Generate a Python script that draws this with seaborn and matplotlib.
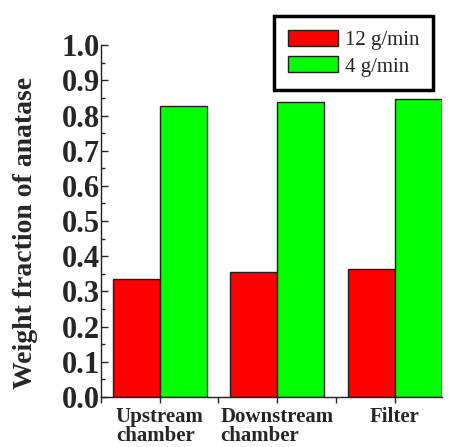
import numpy as np
import pandas as pd
import matplotlib
matplotlib.use("Agg")
import matplotlib.pyplot as plt
from matplotlib.ticker import MultipleLocator, FixedLocator
import seaborn as sns

# Daten
locations = ["Upstream\nchamber", "Downstream\nchamber", "Filter"]
rate_labels = ["12 g/min", "4 g/min"]
frac_12 = [0.334, 0.354, 0.363]
frac_4 = [0.828, 0.839, 0.847]
bar_colors = ["#ff0000", "#00ff00"]

df = pd.DataFrame({
    "location": locations * 2,
    "rate": [rate_labels[0]] * 3 + [rate_labels[1]] * 3,
    "frac": frac_12 + frac_4,
})

sns.set_style("ticks")
plt.rcParams["font.family"] = ["Liberation Serif", "DejaVu Serif"]

fig = plt.figure(figsize=(4.51, 4.47), dpi=100)
ax = fig.add_axes([0.224, 0.112, 0.755, 0.787])

sns.barplot(data=df, x="location", y="frac", hue="rate", order=locations,
            hue_order=rate_labels, palette=bar_colors, width=0.8,
            edgecolor="#202020", linewidth=1.0, saturation=1, ax=ax)

ax.set_xlim(-0.5, 2.4)
ax.set_ylim(0, 1.0)
ax.spines["top"].set_visible(False)
ax.spines["right"].set_visible(False)
for s in ["left", "bottom"]:
    ax.spines[s].set_linewidth(1.0)
    ax.spines[s].set_color("#202020")

ax.yaxis.set_major_locator(MultipleLocator(0.1))
ax.yaxis.set_minor_locator(MultipleLocator(0.05))
ax.set_yticklabels([f"{v:.1f}" for v in ax.get_yticks()], fontsize=22, fontweight="bold")
ax.tick_params(axis="y", which="major", direction="in", length=5, width=1, pad=1)
ax.tick_params(axis="y", which="minor", direction="in", length=3, width=1)

ax.xaxis.set_minor_locator(FixedLocator([-0.5, 0.5, 1.5]))
ax.tick_params(axis="x", which="major", direction="out", length=4, width=1, pad=3)
ax.tick_params(axis="x", which="minor", direction="out", length=4, width=1)
for lab in ax.get_xticklabels():
    lab.set_fontsize(15)
    lab.set_fontweight("bold")
    lab.set_multialignment("left")
    lab.set_linespacing(0.98)

ax.set_xlabel("")
ax.set_ylabel("Weight fraction of anatase", fontsize=20, fontweight="bold", labelpad=17)
ax.yaxis.label.set_y(0.466)

handles, labels = ax.get_legend_handles_labels()
ax.legend(handles, labels, loc="upper right", bbox_to_anchor=(0.960, 0.964),
          bbox_transform=fig.transFigure, fontsize=15, frameon=True,
          fancybox=False, edgecolor="black", framealpha=1,
          handlelength=2.4, handleheight=0.82, handletextpad=0.35,
          borderpad=0.65, labelspacing=0.3, borderaxespad=0)
ax.get_legend().get_frame().set_linewidth(2.5)

fig.savefig("out.png", dpi=100)
